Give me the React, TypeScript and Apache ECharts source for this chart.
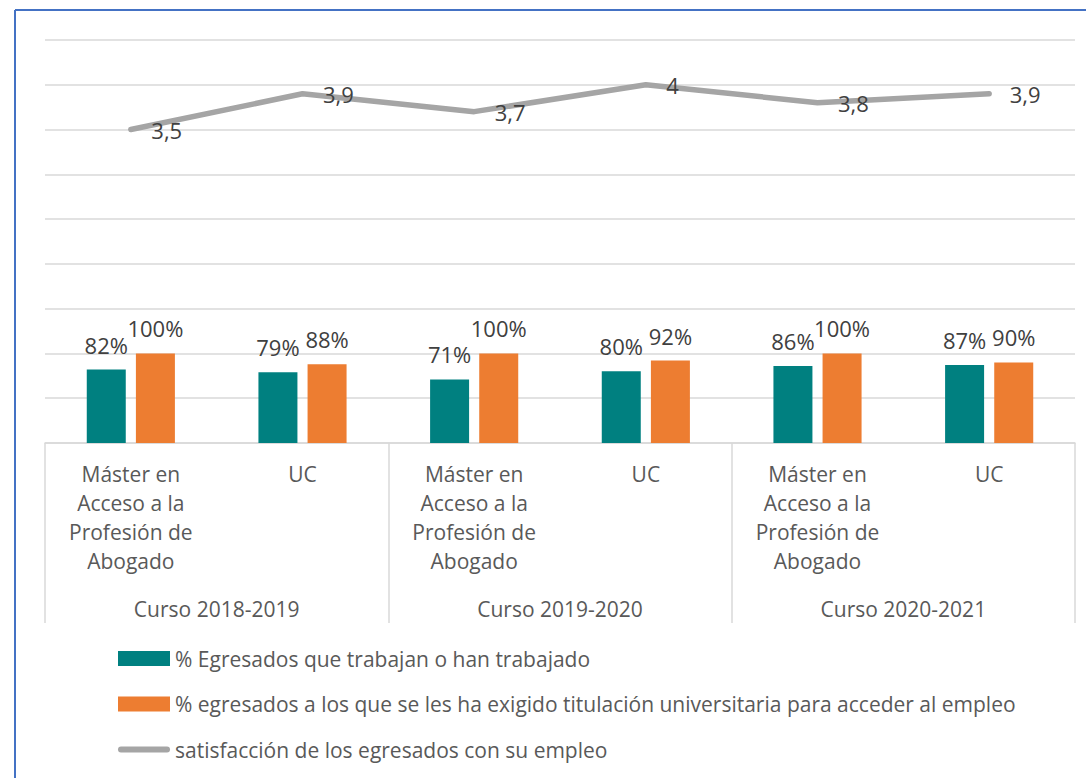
import React, { useEffect, useRef } from "react";
import * as echarts from "echarts";

const categories = [
  "Máster en\nAcceso a la\nProfesión de\nAbogado",
  "UC",
  "Máster en\nAcceso a la\nProfesión de\nAbogado",
  "UC",
  "Máster en\nAcceso a la\nProfesión de\nAbogado",
  "UC",
];
const groups = ["Curso 2018-2019", "Curso 2019-2020", "Curso 2020-2021"];
const seriesNames = [
  "% Egresados que trabajan o han trabajado",
  "% egresados a los que se les ha exigido titulación universitaria para acceder al empleo",
  "satisfacción de los egresados con su empleo",
];
const trabajan = [0.82, 0.79, 0.71, 0.8, 0.86, 0.87];
const titulacion = [1.0, 0.88, 1.0, 0.92, 1.0, 0.9];
const satisfaccion = [3.5, 3.9, 3.7, 4.0, 3.8, 3.9];

const FONT = "'Open Sans', sans-serif";
const LINE_ICON = "path://M3,0 L49,0 A3,3 0 0 1 49,6 L3,6 A3,3 0 0 1 3,0 Z";

export default function App() {
  const ref = useRef<HTMLDivElement>(null);
  useEffect(() => {
    if (!ref.current) return;
    const chart = echarts.init(ref.current, undefined, { renderer: "svg" });
    const pct = (p: any) => Math.round(p.value * 100) + "%";
    chart.setOption({
      animation: false,
      backgroundColor: "#ffffff",
      textStyle: { fontFamily: FONT },
      grid: { left: 45, right: 11, top: 40, bottom: 335, containLabel: false },
      graphic: [
        { type: "line", shape: { x1: 15, y1: 10, x2: 1086, y2: 10 }, style: { stroke: "#4472c4", lineWidth: 2 } },
        { type: "line", shape: { x1: 15, y1: 10, x2: 15, y2: 778 }, style: { stroke: "#4472c4", lineWidth: 2 } },
      ],
      legend: {
        orient: "vertical",
        left: 118,
        top: 648,
        padding: 0,
        itemWidth: 52,
        itemHeight: 15,
        itemGap: 24.5,
        textStyle: { fontFamily: FONT, fontSize: 21, color: "#595959", lineHeight: 20 },
        data: [
          { name: seriesNames[0], icon: "rect" },
          { name: seriesNames[1], icon: "rect" },
          { name: seriesNames[2], icon: LINE_ICON },
        ],
      },
      xAxis: [
        {
          type: "category",
          position: "bottom",
          data: categories,
          axisLine: { show: true, lineStyle: { color: "#d9d9d9", width: 1.5 } },
          axisTick: { show: false },
          axisLabel: {
            interval: 0,
            margin: 16,
            fontFamily: FONT,
            fontSize: 21,
            lineHeight: 29,
            color: "#595959",
          },
        },
        {
          type: "category",
          position: "bottom",
          offset: 0,
          data: groups,
          axisLine: { show: false },
          axisTick: { show: true, interval: 0, length: 180, lineStyle: { color: "#d9d9d9", width: 1.5 } },
          axisLabel: {
            interval: 0,
            margin: 151,
            fontFamily: FONT,
            fontSize: 21,
            lineHeight: 29,
            color: "#595959",
          },
        },
      ],
      yAxis: {
        type: "value",
        min: 0,
        max: 4.5,
        interval: 0.5,
        axisLabel: { show: false },
        axisLine: { show: false },
        axisTick: { show: false },
        splitLine: { show: true, lineStyle: { color: "#d9d9d9", width: 1.5 } },
      },
      series: [
        {
          name: seriesNames[0],
          type: "bar",
          xAxisIndex: 0,
          data: trabajan,
          barWidth: 39,
          barGap: "26%",
          itemStyle: { color: "#008080" },
          label: {
            show: true,
            position: "top",
            distance: 14,
            formatter: pct,
            fontFamily: FONT,
            fontSize: 22,
            color: "#404040",
          },
        },
        {
          name: seriesNames[1],
          type: "bar",
          xAxisIndex: 0,
          data: titulacion,
          barWidth: 39,
          itemStyle: { color: "#ed7d31" },
          label: {
            show: true,
            position: "top",
            distance: 14,
            formatter: pct,
            fontFamily: FONT,
            fontSize: 22,
            color: "#404040",
          },
        },
        {
          name: seriesNames[2],
          type: "line",
          xAxisIndex: 0,
          data: satisfaccion,
          symbol: "circle",
          symbolSize: 1,
          showSymbol: true,
          z: 5,
          lineStyle: { color: "#a5a5a5", width: 5.5, cap: "round", join: "round" },
          itemStyle: { color: "#a5a5a5", opacity: 1 },
          label: {
            show: true,
            position: "right",
            distance: 20,
            formatter: (p: any) => String(p.value).replace(".", ","),
            fontFamily: FONT,
            fontSize: 22,
            color: "#404040",
          },
        },
      ],
    });
    return () => chart.dispose();
  }, []);
  return (
    <div style={{ position: "fixed", left: 0, top: 0, width: 1086, height: 778, background: "#fff" }}>
      <div ref={ref} style={{ width: 1086, height: 778 }} />
    </div>
  );
}
